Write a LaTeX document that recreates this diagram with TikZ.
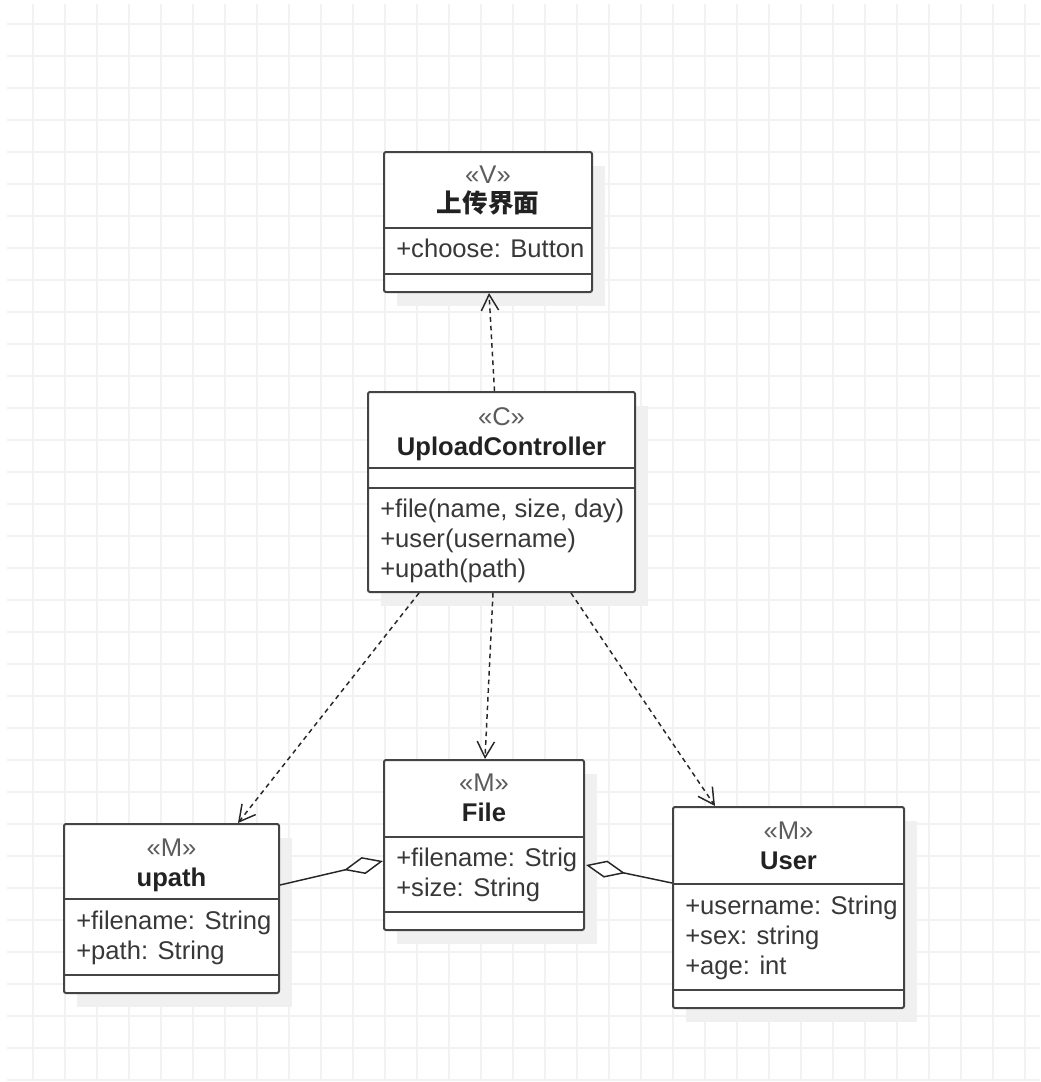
\documentclass[tikz,border=0pt]{standalone}
\usepackage{fontspec}
\setmainfont{Liberation Sans}
\newfontfamily\cjk{Noto Sans CJK SC}
\usetikzlibrary{arrows.meta,fit,calc}
\definecolor{gridc}{HTML}{F2F2F2}
\definecolor{shadowc}{HTML}{F0F0F0}
\definecolor{linec}{HTML}{444444}
\definecolor{attrc}{HTML}{383838}
\definecolor{stereoc}{HTML}{5C5C5C}
\definecolor{titlec}{HTML}{222222}
\newcommand\umlclass[5]{%
  \fill[shadowc] (#2+13,#3+14) rectangle (#4+13,#5+14);
  \node[umlbox, fit={(#2,#3)(#4,#5)}] (#1) {};
}
\begin{document}
\begin{tikzpicture}[x=0.75pt,y=-0.75pt,
  font=\fontsize{19.2pt}{23pt}\selectfont,
  umlbox/.style={draw=linec, line width=1.5pt, fill=white, rounded corners=1.5pt, inner sep=0pt},
  sep/.style={draw=linec, line width=1.5pt},
  attr/.style={anchor=base west, inner sep=0pt, text=attrc},
  stereo/.style={anchor=base, inner sep=0pt, text=stereoc},
  title/.style={anchor=base, inner sep=0pt, text=titlec, font=\fontsize{19.2pt}{23pt}\selectfont\bfseries},
  dep/.style={draw=black!85, line width=1.1pt, dash pattern=on 3.5pt off 3pt, -{Straight Barb[length=12pt, width=13pt, line width=1.1pt]}},
  agg/.style={draw=black!85, line width=1.1pt, -{Diamond[fill=white, length=30pt, width=13pt, line width=1.1pt]}}
]
\fill[white] (0,0) rectangle (1040,1082);
\useasboundingbox (0,0) rectangle (1040,1082);
% grid
\foreach \gx in {33,65,...,1025} \draw[gridc, line width=1.1pt] (\gx,4) -- (\gx,1080);
\foreach \gy in {24,56,...,1080} \draw[gridc, line width=1.1pt] (7,\gy) -- (1040,\gy);

% classes
\umlclass{view}{384}{152}{592}{292}
\draw[sep] (384,228) -- (592,228);
\draw[sep] (384,274) -- (592,274);
\node[stereo] (viewS) at (488,183) {«V»};
\node[title, font=\fontsize{19.2pt}{23pt}\selectfont\cjk\bfseries] (viewT) at (488,212) {上传界面};
\node[attr] (viewA1) at (396,257) {+choose: Button};

\umlclass{ctrl}{368}{392}{635}{592}
\draw[sep] (368,468) -- (635,468);
\draw[sep] (368,488) -- (635,488);
\node[stereo] (ctrlS) at (501.5,425) {«C»};
\node[title] (ctrlT) at (501.5,455) {UploadController};
\node[attr] (ctrlA1) at (380,517) {+file(name, size, day)};
\node[attr] (ctrlA2) at (380,547) {+user(username)};
\node[attr] (ctrlA3) at (380,577) {+upath(path)};

\umlclass{upath}{64}{824}{279}{993}
\draw[sep] (64,899) -- (279,899);
\draw[sep] (64,975) -- (279,975);
\node[stereo] (upathS) at (171.5,856) {«M»};
\node[title] (upathT) at (171.5,886) {upath};
\node[attr] (upathA1) at (76,929) {+filename: String};
\node[attr] (upathA2) at (76,959) {+path: String};

\umlclass{file}{384}{760}{584}{930}
\draw[sep] (384,837) -- (584,837);
\draw[sep] (384,912) -- (584,912);
\node[stereo] (fileS) at (484,791) {«M»};
\node[title] (fileT) at (484,821) {File};
\node[attr] (fileA1) at (396,866) {+filename: Strig};
\node[attr] (fileA2) at (396,896) {+size: String};

\umlclass{user}{673}{807}{904}{1008}
\draw[sep] (673,884) -- (904,884);
\draw[sep] (673,990) -- (904,990);
\node[stereo] (userS) at (788.5,839) {«M»};
\node[title] (userT) at (788.5,869) {User};
\node[attr] (userA1) at (685,914) {+username: String};
\node[attr] (userA2) at (685,944) {+sex: string};
\node[attr] (userA3) at (685,974) {+age: int};

% dependencies
\draw[dep] ($(ctrl.north)+(-7,0)$) -- ($(view.south)+(1,0)$);
\draw[dep] ($(ctrl.south west)+(52,0)$) -- ($(upath.north west)+(175,0)$);
\draw[dep] ($(ctrl.south west)+(126,0)$) -- ($(file.north west)+(102,0)$);
\draw[dep] ($(ctrl.south west)+(204,0)$) -- ($(user.north west)+(43,0)$);

% aggregations
\draw[agg] ($(upath.north east)+(0,62)$) -- ($(file.north west)+(0,102)$);
\draw[agg] ($(user.north west)+(0,77)$) -- ($(file.north east)+(1,106)$);
\end{tikzpicture}
\end{document}
